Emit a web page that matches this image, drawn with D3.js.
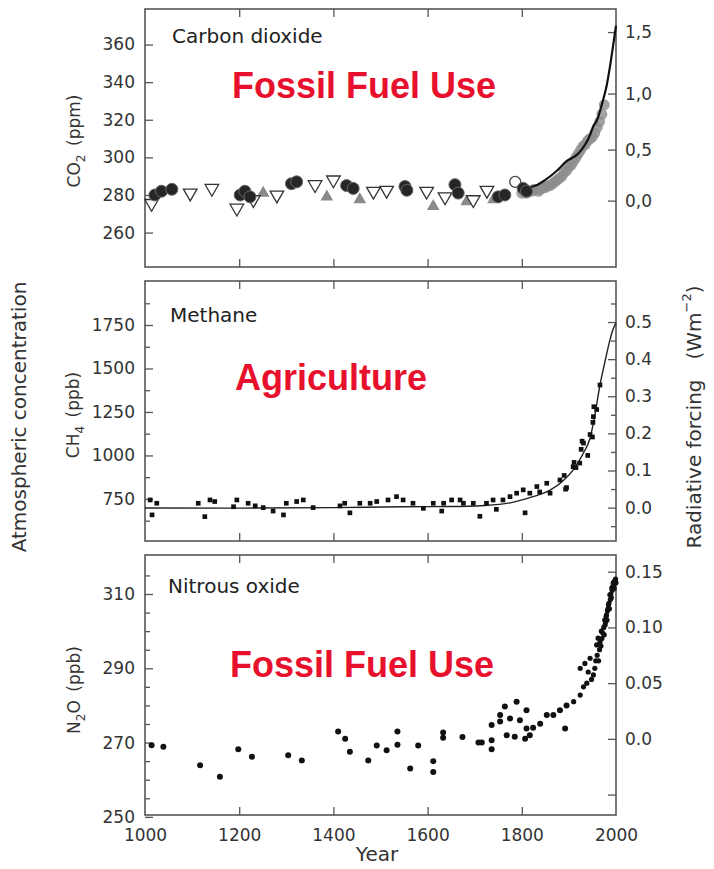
<!DOCTYPE html>
<html lang="en">
<head>
<meta charset="UTF-8">
<title>Atmospheric concentration of CO2, CH4 and N2O, 1000-2000</title>
<script src="https://d3js.org/d3.v7.min.js"></script>
<style>
  body { margin: 0; background: #fff; }
  svg { display: block; font-family: "DejaVu Sans", sans-serif; }
  .tick text { fill: #333; font-size: 17px; font-family: "DejaVu Sans", sans-serif; }
  .tick line { stroke: #555; stroke-width: 1.3; }
  .frame { fill: none; stroke: #555; stroke-width: 1.6; }
  .title { font-size: 20px; fill: #222; }
  .label { font-size: 17px; fill: #333; }
  .big { font-size: 20px; fill: #333; }
  .note { font-family: "Liberation Sans", Arial, sans-serif; font-weight: bold; font-size: 36px; fill: #e8112d; }
</style>
</head>
<body>
<div id="chart"></div>
<script>
// ---------- data ----------
const yearTicks = [1000, 1200, 1400, 1600, 1800, 2000];
const innerYears = [1200, 1400, 1600, 1800];

// carbon dioxide, ppm  [year, value]
const co2Ticks = [260, 280, 300, 320, 340, 360];
const co2ForcingTicks = [0, 0.5, 1.0, 1.5];
const co2ForcingLabels = ["0,0", "0,5", "1,0", "1,5"];
const co2Filled = [[1021,280],[1035,282],[1057,283],[1202,280],[1212,282],[1223,279],[1311,286],[1322,287],
  [1428,285],[1442,283.5],[1552,284.5],[1556,282.5],[1658,285.5],[1665,281],[1750,279],[1764,280],[1803,283.5],[1810,282]];
const co2DownTri = [[1014,275.5],[1096,281],[1142,283.5],[1195,273],[1230,277.5],[1280,280],[1361,285.5],[1400,288],
  [1485,282],[1513,282.5],[1598,282],[1637,279],[1697,277.5],[1726,282.5]];
const co2UpTri = [[1251,281],[1386,279],[1456,277.5],[1612,274],[1683,276.5],[1740,277.5]];
const co2Open = [[1786,287]];
const co2Band = [[1800,282],[1805,283],[1810,282],[1815,283],[1820,283],[1825,284],[1830,284],[1835,283],[1840,284],
  [1845,285],[1850,285],[1855,286],[1860,286],[1865,287],[1870,288],[1875,289],[1880,290],[1885,291],[1890,293],
  [1895,294],[1900,296],[1905,297],[1910,299],[1915,301],[1920,303],[1925,305],[1930,307],[1935,308],[1940,310],
  [1945,311],[1950,312],[1955,314],[1960,317],[1965,320],[1970,324],[1975,329]];
const co2Line = [[1815,284],[1830,285],[1850,288],[1875,293],[1895,298],[1920,302],[1945,312],[1951,316],
  [1960,320],[1972,330],[1980,338],[1987,348],[1993,358],[2000,370]];

// methane, ppb
const ch4Ticks = [750, 1000, 1250, 1500, 1750];
const ch4MinorTicks = [625, 875, 1125, 1375, 1625, 1875];
const ch4ForcingTicks = [0, 0.1, 0.2, 0.3, 0.4, 0.5];
const ch4ForcingMinor = [-0.05, 0.05, 0.15, 0.25, 0.35, 0.45, 0.55];
const ch4Points = [[1011,744],[1025,725],[1015,658],[1113,725],[1127,648],[1138,744],[1148,735],[1195,744],[1188,705],
  [1219,725],[1234,710],[1251,700],[1272,680],[1300,725],[1294,658],[1322,735],[1336,744],[1357,700],[1414,710],
  [1424,725],[1435,670],[1456,725],[1478,725],[1492,735],[1516,744],[1534,763],[1548,744],[1569,725],[1591,696],
  [1612,725],[1630,680],[1634,725],[1651,744],[1669,744],[1676,725],[1697,725],[1711,650],[1725,725],[1739,744],
  [1746,690],[1760,744],[1775,763],[1789,783],[1803,802],[1807,670],[1817,783],[1832,821],[1838,790],[1853,840],
  [1860,783],[1881,859],[1890,885],[1893,806],[1895,815],[1909,935],[1911,960],[1915,930],[1923,956],[1926,1035],
  [1928,1082],[1931,1071],[1940,1000],[1945,1120],[1950,1106],[1951,1190],[1952,1223],[1953,1280],[1959,1264],[1966,1405]];
const ch4Line = [[1000,698],[1200,697],[1400,700],[1550,705],[1650,706],[1720,712],[1780,730],[1820,760],[1860,800],
  [1890,860],[1910,920],[1930,1010],[1945,1100],[1955,1230],[1966,1405],[1975,1520],[1985,1640],[1993,1720],[2000,1762]];

// nitrous oxide, ppb
const n2oTicks = [250, 270, 290, 310];
const n2oMinorTicks = [255, 260, 265, 275, 280, 285, 295, 300, 305, 315];
const n2oForcingTicks = [-0.05, 0, 0.05, 0.10, 0.15];
const n2oForcingLabels = ["", "0.0", "0.05", "0.10", "0.15"];
const n2oPoints = [[1014,269.3],[1039,268.9],[1117,263.9],[1159,260.8],[1198,268.2],[1227,266.2],[1304,266.6],[1333,265.2],
  [1410,273],[1425,271],[1435,267.5],[1474,265.2],[1492,269.2],[1513,267.9],[1536,273],[1536,269.4],[1563,263],
  [1580,269.2],[1612,265],[1612,262.1],[1633,272.7],[1633,271.3],[1674,271.5],[1708,270],[1715,270],[1736,274.7],
  [1736,270.6],[1736,268.2],[1754,277.4],[1754,275.7],[1764,279.7],[1775,276.5],[1768,272],[1785,271.6],[1789,281],
  [1796,276],[1810,278.7],[1810,273.8],[1807,271],[1817,272],[1824,274],[1839,275.1],[1853,277.4],[1867,277.4],
  [1881,278.7],[1892,273.8],[1895,280],[1910,281],[1924,282.8],[1931,285],[1924,290],[1934,291.3],[1941,289],
  [1945,292.7],[1952,288.2],[1959,296.3],[1962,298.1],[1969,300],[1977,301.7],[1980,304.4],[1984,307.1],
  [1987,309.8],[1991,311.6],[1994,313],[1998,313.4],
  [1938,286],[1948,287],[1955,290],[1957,292],[1960,293.5],[1963,292],[1965,295],[1966,297],[1968,296],
  [1970,298],[1972,299.5],[1974,301],[1975,299],[1976,303],[1978,302.5],[1979,304],[1981,303],[1982,305.5],
  [1983,306],[1985,307.5],[1986,306],[1988,308.5],[1989,310],[1990,309],[1992,311],[1993,312],[1995,312.5],
  [1996,311.5],[1997,313.5],[1999,314],[2000,313]];

// ---------- chart ----------
const svg = d3.select("#chart").append("svg")
    .attr("width", 714)
    .attr("height", 869);

const x = d3.scaleLinear().domain([1000, 2000]).range([145, 616]);
const yCO2 = d3.scaleLinear().domain([241.7, 378.9]).range([267, 9]);
const yCH4 = d3.scaleLinear().domain([508, 2003]).range([541, 281]);
const yN2O = d3.scaleLinear().domain([250.5, 320.5]).range([815, 555]);

// forcing scales on the right hand side
const co2Ref = 277;   // ppm at zero forcing
const yCH4F = d3.scaleLinear().domain([0, 0.5]).range([yCH4(700), yCH4(1767)]);
const yN2OF = d3.scaleLinear().domain([0, 0.15]).range([yN2O(271), yN2O(316)]);

const noDomain = g => g.select(".domain").remove();

// frame plus year ticks on top and bottom
function frame(y, labelled) {
    const [b, t] = y.range();
    svg.append("rect").attr("class", "frame")
        .attr("x", 145).attr("y", t).attr("width", 471).attr("height", b - t);
    svg.append("g").attr("transform", `translate(0,${t})`)
        .call(d3.axisTop(x).tickValues(innerYears).tickSize(-8).tickFormat(""))
        .call(noDomain);
    svg.append("g").attr("transform", `translate(0,${b})`)
        .call(d3.axisBottom(x).tickValues(labelled ? yearTicks : innerYears).tickSize(-8).tickPadding(14)
            .tickFormat(labelled ? d3.format("d") : ""))
        .call(noDomain)
        .call(g => g.selectAll(".tick line").filter(d => d === 1000 || d === 2000).remove());
}
function leftAxis(y, ticks, minor) {
    svg.append("g").attr("transform", "translate(145,0)")
        .call(d3.axisLeft(y).tickValues(ticks).tickSize(-8).tickPadding(10).tickFormat(d3.format("d")))
        .call(noDomain);
    if (minor) svg.append("g").attr("transform", "translate(145,0)")
        .call(d3.axisLeft(y).tickValues(minor).tickSize(-5).tickFormat(""))
        .call(noDomain);
}
function rightAxis(y, ticks, fmt, minor) {
    svg.append("g").attr("transform", "translate(616,0)")
        .call(d3.axisRight(y).tickValues(ticks).tickSize(-8).tickPadding(9).tickFormat(fmt))
        .call(noDomain)
        .call(g => g.selectAll(".tick text").attr("text-anchor", "start"));
    if (minor) svg.append("g").attr("transform", "translate(616,0)")
        .call(d3.axisRight(y).tickValues(minor).tickSize(-5).tickFormat(""))
        .call(noDomain);
}

frame(yCO2, false);
frame(yCH4, false);
frame(yN2O, true);

leftAxis(yCO2, co2Ticks);
leftAxis(yCH4, ch4Ticks, ch4MinorTicks);
leftAxis(yN2O, n2oTicks, n2oMinorTicks);

rightAxis(yCO2, co2ForcingTicks.map(f => co2Ref * Math.exp(f / 5.35)), (d, i) => co2ForcingLabels[i]);
rightAxis(yCH4F, ch4ForcingTicks, d3.format(".1f"), ch4ForcingMinor);
rightAxis(yN2OF, n2oForcingTicks, (d, i) => n2oForcingLabels[i]);

// ---- carbon dioxide marks ----
const co2 = svg.append("g");
co2.selectAll(".band").data(co2Band).join("circle")
    .attr("cx", d => x(d[0])).attr("cy", d => yCO2(d[1]) + 2).attr("r", 5.5)
    .attr("fill", "#8d8d8d").attr("opacity", 0.8);
co2.append("path").datum(co2Line)
    .attr("d", d3.line().x(d => x(d[0])).y(d => yCO2(d[1])).curve(d3.curveMonotoneX))
    .attr("fill", "none").attr("stroke", "#111").attr("stroke-width", 2.2);
co2.selectAll(".up").data(co2UpTri).join("path")
    .attr("d", d3.symbol(d3.symbolTriangle, 70))
    .attr("transform", d => `translate(${x(d[0])},${yCO2(d[1])})`)
    .attr("fill", "#8a8a8a");
co2.selectAll(".down").data(co2DownTri).join("path")
    .attr("d", d3.symbol(d3.symbolTriangle, 80))
    .attr("transform", d => `translate(${x(d[0])},${yCO2(d[1])}) rotate(180)`)
    .attr("fill", "#fff").attr("stroke", "#333").attr("stroke-width", 1.3);
co2.selectAll(".open").data(co2Open).join("circle")
    .attr("cx", d => x(d[0])).attr("cy", d => yCO2(d[1])).attr("r", 5.5)
    .attr("fill", "#fff").attr("stroke", "#444").attr("stroke-width", 1.3);
co2.selectAll(".filled").data(co2Filled).join("circle")
    .attr("cx", d => x(d[0])).attr("cy", d => yCO2(d[1])).attr("r", 6)
    .attr("fill", "#262626").attr("stroke", "#666").attr("stroke-width", 1);

// ---- methane marks ----
svg.append("path").datum(ch4Line)
    .attr("d", d3.line().x(d => x(d[0])).y(d => yCH4(d[1])).curve(d3.curveMonotoneX))
    .attr("fill", "none").attr("stroke", "#222").attr("stroke-width", 1.4);
svg.append("g").selectAll("path").data(ch4Points).join("path")
    .attr("d", d3.symbol(d3.symbolSquare, 22))
    .attr("transform", d => `translate(${x(d[0])},${yCH4(d[1])})`)
    .attr("fill", "#111");

// ---- nitrous oxide marks ----
svg.append("g").selectAll("circle").data(n2oPoints).join("circle")
    .attr("cx", d => x(d[0])).attr("cy", d => yN2O(d[1]))
    .attr("r", d => d[0] > 1900 ? 2.6 : 3)
    .attr("fill", "#111");

// ---- panel titles and notes ----
svg.append("text").attr("class", "title").attr("x", 172).attr("y", 43).text("Carbon dioxide");
svg.append("text").attr("class", "title").attr("x", 170).attr("y", 322).text("Methane");
svg.append("text").attr("class", "title").attr("x", 168).attr("y", 593).text("Nitrous oxide");

svg.append("text").attr("class", "note").attr("x", 232).attr("y", 98).text("Fossil Fuel Use");
svg.append("text").attr("class", "note").attr("x", 235).attr("y", 390).text("Agriculture");
svg.append("text").attr("class", "note").attr("x", 230).attr("y", 677).text("Fossil Fuel Use");

// ---- axis titles ----
function vText(cx, cy, cls, parts) {
    const t = svg.append("text").attr("class", cls)
        .attr("transform", `translate(${cx},${cy}) rotate(-90)`)
        .attr("text-anchor", "middle").attr("dominant-baseline", "central");
    parts.forEach(p => {
        const s = t.append("tspan").text(p[0]);
        if (p[1] === "sub") s.attr("baseline-shift", "sub").attr("font-size", "12px");
        if (p[1] === "sup") s.attr("baseline-shift", "super").attr("font-size", "13px");
    });
}
vText(74, 141, "label", [["CO"], ["2", "sub"], ["\u2002(ppm)"]]);
vText(73, 415, "label", [["CH"], ["4", "sub"], ["\u2002(ppb)"]]);
vText(74, 690, "label", [["N"], ["2", "sub"], ["O\u2002(ppb)"]]);
vText(19, 417, "big", [["Atmospheric concentration"]]);
vText(694, 417, "big", [["Radiative forcing\u2002\u2002(Wm"], ["\u22122", "sup"], [")"]]);

svg.append("text").attr("class", "big").attr("x", 377).attr("y", 861)
    .attr("text-anchor", "middle").attr("font-size", "19px").text("Year");
</script>
</body>
</html>
